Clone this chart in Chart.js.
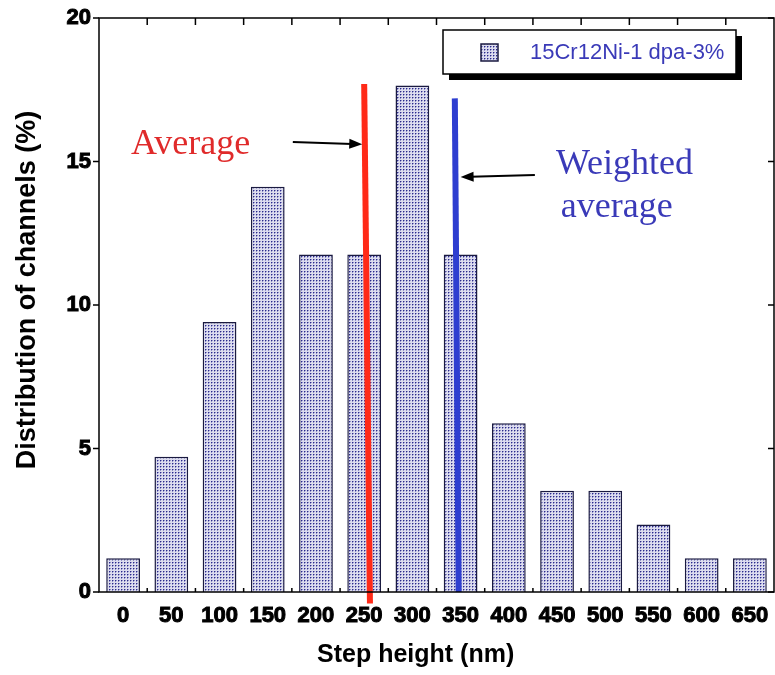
<!DOCTYPE html>
<html>
<head>
<meta charset="utf-8">
<script src="https://cdn.jsdelivr.net/npm/chart.js@4.4.1/dist/chart.umd.min.js"></script>
<style>
  html, body { margin: 0; padding: 0; background: #fff; }
  #wrap { width: 775px; height: 675px; position: relative; }
</style>
</head>
<body>
<div id="wrap"><canvas id="chart"></canvas></div>
<script>
// Données
const stepHeights = ['0', '50', '100', '150', '200', '250', '300', '350', '400', '450', '500', '550', '600', '650'];
const channelShare = [1.18, 4.71, 9.41, 14.12, 11.76, 11.76, 17.65, 11.76, 5.88, 3.53, 3.53, 2.35, 1.18, 1.18];
const seriesLabel = '15Cr12Ni-1 dpa-3%';
const yTicks = [0, 5, 10, 15, 20];

// Lignes verticales (moyenne et moyenne pondérée), en nm / %
const averageLine = [{ x: 256, y: -0.4 }, { x: 250, y: 17.7 }];
const weightedLine = [{ x: 348, y: 0 }, { x: 344, y: 17.2 }];

// Flèches et textes d'annotation
const arrows = [
    { from: [176, 15.68], to: [248, 15.6] },
    { from: [427, 14.53], to: [350, 14.46] }
];
const notes = [
    { text: 'Average', x: 70, y: 15.6, color: '#e02a2a' },
    { text: 'Weighted', x: 520, y: 14.9, color: '#3a3ab8' },
    { text: 'average', x: 512, y: 13.4, color: '#3a3ab8' }
];

// Motif pointillé des barres
function dotPattern() {
    const c = document.createElement('canvas');
    c.width = 3; c.height = 3;
    const g = c.getContext('2d');
    g.fillStyle = '#dcdcee';
    g.fillRect(0, 0, 3, 3);
    g.fillStyle = '#9090c8';
    g.fillRect(2, 1, 1, 1);
    g.fillRect(1, 2, 1, 1);
    g.fillStyle = '#2a2a8a';
    g.fillRect(1, 1, 1, 1);
    return g.createPattern(c, 'repeat');
}
const pattern = dotPattern();

const framePlugin = {
    id: 'frame',
    afterDatasetsDraw(chart) {
        const { ctx, chartArea: a, scales } = chart;
        const y = scales.y;
        ctx.save();
        ctx.strokeStyle = '#000';
        ctx.lineWidth = 1.5;
        ctx.strokeRect(a.left, a.top, a.right - a.left, a.bottom - a.top);
        ctx.beginPath();
        yTicks.forEach(v => {
            const py = y.getPixelForValue(v);
            ctx.moveTo(a.left - 6, py); ctx.lineTo(a.left, py);
            ctx.moveTo(a.right - 6, py); ctx.lineTo(a.right, py);
        });
        const w = (a.right - a.left) / stepHeights.length;
        for (let i = 1; i < stepHeights.length; i++) {
            const px = a.left + i * w;
            ctx.moveTo(px, a.bottom); ctx.lineTo(px, a.bottom - 4);
            ctx.moveTo(px, a.top); ctx.lineTo(px, a.top + 7);
        }
        ctx.stroke();

        // flèches
        const xl = scales.xl;
        ctx.fillStyle = '#000';
        ctx.lineWidth = 2;
        arrows.forEach(ar => {
            const x1 = xl.getPixelForValue(ar.from[0]), y1 = y.getPixelForValue(ar.from[1]);
            const x2 = xl.getPixelForValue(ar.to[0]), y2 = y.getPixelForValue(ar.to[1]);
            const ang = Math.atan2(y2 - y1, x2 - x1);
            ctx.beginPath();
            ctx.moveTo(x1, y1);
            ctx.lineTo(x2 - 10 * Math.cos(ang), y2 - 10 * Math.sin(ang));
            ctx.stroke();
            ctx.beginPath();
            ctx.moveTo(x2, y2);
            ctx.lineTo(x2 - 13 * Math.cos(ang) + 5 * Math.sin(ang), y2 - 13 * Math.sin(ang) - 5 * Math.cos(ang));
            ctx.lineTo(x2 - 13 * Math.cos(ang) - 5 * Math.sin(ang), y2 - 13 * Math.sin(ang) + 5 * Math.cos(ang));
            ctx.closePath();
            ctx.fill();
        });

        // textes
        ctx.font = '36px "Liberation Serif", serif';
        ctx.textAlign = 'center';
        ctx.textBaseline = 'middle';
        notes.forEach(n => {
            ctx.fillStyle = n.color;
            ctx.fillText(n.text, xl.getPixelForValue(n.x), y.getPixelForValue(n.y));
        });

        // légende
        const bx = 443, by = 30, bw = 293, bh = 44;
        ctx.fillStyle = '#000';
        ctx.fillRect(bx + 6, by + 6, bw, bh);
        ctx.fillStyle = '#fff';
        ctx.fillRect(bx, by, bw, bh);
        ctx.lineWidth = 1.5;
        ctx.strokeStyle = '#000';
        ctx.strokeRect(bx, by, bw, bh);
        ctx.fillStyle = pattern;
        ctx.fillRect(bx + 38, by + 14, 17, 17);
        ctx.strokeStyle = '#1a1a40';
        ctx.strokeRect(bx + 38, by + 14, 17, 17);
        ctx.fillStyle = '#3a3ab8';
        ctx.font = '22px "Liberation Sans", Arial, sans-serif';
        ctx.textAlign = 'left';
        ctx.fillText(chart.data.datasets[0].label, bx + 87, by + 23);
        ctx.restore();
    }
};

new Chart(document.getElementById('chart'), {
    type: 'bar',
    data: {
        labels: stepHeights,
        datasets: [
            {
                label: seriesLabel,
                data: channelShare,
                backgroundColor: pattern,
                borderColor: '#1a1a40',
                borderWidth: 1.5,
                categoryPercentage: 1,
                barPercentage: 0.7,
                grouped: false,
                order: 2
            },
            {
                type: 'line',
                label: 'Average',
                data: averageLine,
                xAxisID: 'xl',
                borderColor: '#ff2a18',
                borderWidth: 6,
                pointRadius: 0,
                clip: false,
                order: 0
            },
            {
                type: 'line',
                label: 'Weighted average',
                data: weightedLine,
                xAxisID: 'xl',
                borderColor: '#2e3ed0',
                borderWidth: 6,
                pointRadius: 0,
                clip: false,
                order: 0
            }
        ]
    },
    options: {
        responsive: true,
        maintainAspectRatio: false,
        animation: false,
        layout: { padding: { top: 18, right: 1, left: 0, bottom: 0 } },
        plugins: { legend: { display: false }, tooltip: { enabled: false } },
        scales: {
            x: {
                grid: { display: false },
                border: { display: false },
                ticks: {
                    color: '#000',
                    padding: 3,
                    maxRotation: 0,
                    autoSkip: false,
                    font: { family: '"Liberation Sans", Arial', size: 22, weight: 'bold' },
                    textStrokeColor: '#000',
                    textStrokeWidth: 1
                },
                title: {
                    display: true,
                    text: 'Step height (nm)      ',
                    color: '#000',
                    font: { family: '"Liberation Sans", Arial', size: 25, weight: 'bold' },
                    padding: { top: 0, bottom: 5 }
                },
                afterFit(scale) { scale.height = 83; }
            },
            xl: {
                type: 'linear',
                display: false,
                offset: false,
                grid: { offset: false },
                min: -25,
                max: 675
            },
            y: {
                min: 0,
                max: 20,
                grid: { display: false },
                border: { display: false },
                ticks: {
                    stepSize: 5,
                    color: '#000',
                    padding: 0,
                    font: { family: '"Liberation Sans", Arial', size: 22, weight: 'bold' },
                    textStrokeColor: '#000',
                    textStrokeWidth: 1
                },
                title: {
                    display: true,
                    text: '    Distribution of channels (%)',
                    color: '#000',
                    font: { family: '"Liberation Sans", Arial', size: 27, weight: 'bold' },
                    padding: { top: 11, bottom: 0 }
                },
                afterFit(scale) { scale.width = 99; }
            }
        }
    },
    plugins: [framePlugin]
});
</script>
</body>
</html>
